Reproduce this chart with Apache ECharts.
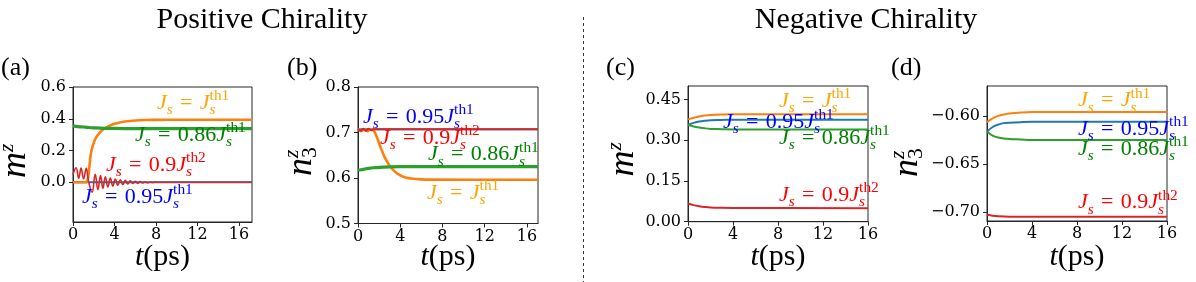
<!DOCTYPE html>
<html><head><meta charset="utf-8">
<script src="https://cdn.jsdelivr.net/npm/echarts@6/dist/echarts.min.js"></script>
<style>html,body{margin:0;padding:0;background:#fff}#c{width:1196px;height:282px}</style>
</head><body><div id="c"></div>
<script>
// ---------------- data (t in ps, value) ----------------
// Panel (a): m^z, positive chirality
const a_blue   = [[0,0],[17.25,0]];
const a_orange = [[0,0],[1.2,0],[1.4,0.01],[1.55,0.08],[1.7,0.17],[1.9,0.23],[2.2,0.28],[2.6,0.315],[3.0,0.337],[3.5,0.355],[4.0,0.368],[4.5,0.377],[5,0.383],[6,0.389],[7,0.392],[8,0.393],[10,0.394],[17.25,0.394]];
const a_green  = [[0,0.355],[0.5,0.351],[1,0.348],[1.5,0.345],[2,0.343],[3,0.34],[4,0.339],[6,0.338],[17.25,0.338]];
const a_red    = [[0,0.05],[0.3,0.092],[0.55,0.025],[0.78,0.09],[1.02,0.022],[1.27,0.088],[1.5,0.005],[1.84,-0.062],[2.14,0.05],[2.4,-0.047],[2.65,0.042],[2.88,-0.038],[3.12,0.034],[3.36,-0.03],[3.6,0.027],[3.84,-0.024],[4.08,0.021],[4.32,-0.019],[4.56,0.016],[4.8,-0.014],[5.04,0.012],[5.28,-0.011],[5.52,0.009],[5.76,-0.008],[6.0,0.007],[6.24,-0.006],[6.48,0.005],[6.72,-0.004],[6.96,0.003],[7.2,-0.003],[7.44,0.002],[7.68,-0.0015],[7.92,0.001],[8.2,0],[17.25,0]];
// Panel (b): n3^z, positive chirality
const b_blue   = [[0,0.707],[17.05,0.707]];
const b_orange = [[0,0.707],[0.3,0.703],[0.6,0.707],[0.9,0.703],[1.2,0.707],[1.45,0.705],[1.7,0.695],[2.1,0.67],[2.5,0.647],[3.0,0.627],[3.5,0.614],[4.0,0.606],[4.5,0.601],[5,0.599],[6,0.597],[7,0.5965],[17.05,0.596]];
const b_green  = [[0,0.617],[0.5,0.619],[1,0.621],[1.5,0.6225],[2,0.6235],[3,0.6245],[4,0.625],[17.05,0.625]];
const b_red    = [[0,0.707],[0.25,0.704],[0.5,0.708],[0.75,0.704],[1.0,0.708],[1.25,0.705],[1.5,0.707],[17.05,0.707]];
// Panel (c): m^z, negative chirality
const c_blue   = [[0,0.357],[0.5,0.364],[1,0.369],[1.5,0.372],[2,0.374],[3,0.375],[4,0.376],[16,0.376]];
const c_orange = [[0,0.377],[0.5,0.383],[1,0.388],[1.5,0.391],[2,0.393],[3,0.395],[4,0.396],[16,0.396]];
const c_green  = [[0,0.357],[0.5,0.351],[1,0.347],[1.5,0.344],[2,0.342],[3,0.341],[4,0.34],[16,0.34]];
const c_red    = [[0,0.067],[0.5,0.061],[1,0.057],[1.5,0.054],[2,0.052],[3,0.051],[4,0.0505],[16,0.05]];
// Panel (d): n3^z, negative chirality
const d_blue   = [[0,-0.6165],[0.5,-0.6115],[1,-0.609],[1.5,-0.6075],[2,-0.607],[3,-0.6065],[4,-0.6062],[16,-0.606]];
const d_orange = [[0,-0.6065],[0.5,-0.6025],[1,-0.6],[1.5,-0.5985],[2,-0.5975],[3,-0.5965],[4,-0.596],[16,-0.596]];
const d_green  = [[0,-0.6165],[0.5,-0.6205],[1,-0.6225],[1.5,-0.6235],[2,-0.624],[3,-0.6245],[4,-0.625],[16,-0.625]];
const d_red    = [[0,-0.7025],[0.5,-0.7035],[1,-0.704],[2,-0.7045],[4,-0.7047],[16,-0.7047]];

// tick values
const xTicks  = [0,4,8,12,16];
const aYTicks = [0,0.2,0.4,0.6];
const bYTicks = [0.5,0.6,0.7,0.8];
const cYTicks = [0,0.15,0.30,0.45];
const dYTicks = [-0.70,-0.65,-0.60];

// texts
const titles = ['Positive Chirality','Negative Chirality'];
const panelTags = ['(a)','(b)','(c)','(d)'];

// ---------------- layout ----------------
const C_BLUE='#1f77b4', C_ORANGE='#ff7f0e', C_GREEN='#2ca02c', C_RED='#d62728';
const L_BLUE='#0000ff', L_ORANGE='#ffa500', L_GREEN='#008000', L_RED='#ff0000';
const MATHFAM = 'Liberation Serif';
const TICKF = 'DejaVu Serif';

const grids = [
  {left:73,  top:87, width:179, height:135},
  {left:358, top:87, width:180, height:136.5},
  {left:688, top:86, width:180, height:135.7},
  {left:987, top:86, width:180, height:135}
];
const xMax = [17.25, 17.05, 16, 16];
const yRange = [[-0.25,0.6],[0.5,0.8],[0,0.5],[-0.709,-0.569]];
const yTicks = [aYTicks,bYTicks,cYTicks,dYTicks];
const yDec = [1,1,2,2];

const cv = document.createElement('canvas').getContext('2d');
function meas(t, it, fs){ cv.font = (it?'italic ':'') + fs + 'px "' + MATHFAM + '"'; return cv.measureText(t).width; }
function tstyle(text, it, fs, color, align) {
  return {text, fontFamily:MATHFAM, fontSize:fs, fontStyle: it ? 'italic' : 'normal', fill:color,
    align: align || 'left', verticalAlign:'middle', textAlign: align || 'left', textVerticalAlign:'middle'};
}

// build formula pieces in local coords (baseline y=0)
function formula(segs, size, color, o) {
  o = o || {};
  const S = size * (o.scale || 0.7);
  const subDy = o.subDy != null ? o.subDy : 0.22*size;
  const supDy = o.supDy != null ? o.supDy : -0.42*size;
  let cur = 0, lastStart = 0;
  const kids = [];
  segs.forEach(s => {
    const fs = s.pos ? S : size;
    const w = meas(s.t, s.it, fs);
    const x0 = s.stack ? lastStart : cur;
    cur = s.stack ? Math.max(cur, x0 + w) : x0 + w;
    lastStart = x0;
    const dy = s.pos === 'sub' ? subDy : s.pos === 'sup' ? supDy : 0;
    kids.push({type:'text', x:x0, y:dy - 0.34*fs, z:100, style:tstyle(s.t, s.it, fs, color)});
  });
  return {kids, width:cur};
}
function place(segs, size, color, x, baseline, o) {
  o = o || {};
  const r = formula(segs, size, color, o);
  const gx = o.center ? x - r.width/2 : x;
  return {type:'group', x:gx, y:baseline, z:100, children:r.kids};
}
function placeRot(segs, size, color, gx, gy, o) {
  const r = formula(segs, size, color, o);
  return {type:'group', x:gx, y:gy, rotation:Math.PI/2, z:100, children:r.kids};
}
function jLabel(coef, th) {
  const s = [{t:'J',it:true},{t:'s',it:true,pos:'sub'},{t:'\u2004=\u2004'}];
  if (coef) s.push({t:coef});
  s.push({t:'J',it:true},{t:'s',it:true,pos:'sub'},{t:th,pos:'sup',stack:true});
  return s;
}
const LS = 22;
const labels = [
  // panel a
  [jLabel('', 'th1'), L_ORANGE, 157, 110.5],
  [jLabel('0.86', 'th1'), L_GREEN, 135, 142.5],
  [jLabel('0.9', 'th2'), L_RED, 106, 172.5],
  [jLabel('0.95', 'th1'), L_BLUE, 82, 204.5],
  // panel b
  [jLabel('0.95', 'th1'), L_BLUE, 363, 124.5],
  [jLabel('0.9', 'th2'), L_RED, 380, 145.5],
  [jLabel('0.86', 'th1'), L_GREEN, 428, 162],
  [jLabel('', 'th1'), L_ORANGE, 427, 200.5],
  // panel c
  [jLabel('', 'th1'), L_ORANGE, 779, 108.5],
  [jLabel('0.95', 'th1'), L_BLUE, 723, 129.5],
  [jLabel('0.86', 'th1'), L_GREEN, 779, 145.5],
  [jLabel('0.9', 'th2'), L_RED, 779, 202.5],
  // panel d
  [jLabel('', 'th1'), L_ORANGE, 1078, 108],
  [jLabel('0.95', 'th1'), L_BLUE, 1078, 136.5],
  [jLabel('0.86', 'th1'), L_GREEN, 1078, 156.5],
  [jLabel('0.9', 'th2'), L_RED, 1078, 210]
];

const graphic = [];
labels.forEach(l => graphic.push(place(l[0], LS, l[1], l[2], l[3])));
// x axis names
grids.forEach(g => graphic.push(place([{t:'t',it:true},{t:'(ps)'}], 30, '#000', g.left + g.width/2, 267, {center:true})));
// y axis names
const mz = [{t:'m',it:true},{t:'z',it:true,pos:'sup'}];
const n3z = [{t:'n',it:true},{t:'3',pos:'sub'},{t:'z',it:true,pos:'sup',stack:true}];
graphic.push(placeRot(mz, 36, '#000', 28, 178, {scale:0.6, supDy:-13}));
graphic.push(placeRot(n3z, 36, '#000', 314, 176, {scale:0.6, supDy:-14, subDy:4}));
graphic.push(placeRot(mz, 36, '#000', 636, 176.5, {scale:0.6, supDy:-13}));
graphic.push(placeRot(n3z, 36, '#000', 920, 177, {scale:0.6, supDy:-14, subDy:4}));
// titles
[[262,titles[0]],[866,titles[1]]].forEach(t => graphic.push({type:'text', x:t[0], y:30 - 0.34*30, z:100,
  style:tstyle(t[1], false, 30, '#000', 'center')}));
// panel tags
[1,287,606,891].forEach((x,i) => graphic.push({type:'text', x:x, y:77 - 0.34*26, z:100,
  style:tstyle(panelTags[i], false, 26, '#000', 'left')}));
// divider
graphic.push({type:'line', z:100, shape:{x1:583.5,y1:17,x2:583.5,y2:282}, style:{stroke:'#333', lineWidth:1, lineDash:[3,3]}});

const AX = '#262626';
const xAxes = grids.map((g,i) => ({
  gridIndex:i, type:'value', min:0, max:xMax[i],
  axisLine:{show:true, onZero:false, lineStyle:{color:AX, width:1}},
  axisTick:{show:true, length:4, customValues:xTicks, lineStyle:{color:AX}},
  axisLabel:{customValues:xTicks, margin:5, fontFamily:TICKF, fontSize:16, color:'#000'},
  splitLine:{show:false}
}));
const yAxes = grids.map((g,i) => ({
  gridIndex:i, type:'value', min:yRange[i][0], max:yRange[i][1],
  axisLine:{show:true, onZero:false, lineStyle:{color:AX, width:1}},
  axisTick:{show:true, length:4, customValues:yTicks[i], lineStyle:{color:AX}},
  axisLabel:{customValues:yTicks[i], margin:7, fontFamily:TICKF, fontSize:16, color:'#000',
    formatter: v => (+v).toFixed(yDec[i]).replace('-', '\u2212')},
  splitLine:{show:false}
}));

function ser(i, data, color, w, smooth) {
  return {type:'line', xAxisIndex:i, yAxisIndex:i, data, showSymbol:false, symbol:'none',
    smooth: smooth == null ? 0.35 : smooth, clip:true, lineStyle:{color, width:w}, itemStyle:{color}, silent:true};
}
const series = [
  ser(0,a_blue,C_BLUE,2), ser(0,a_orange,C_ORANGE,2.6), ser(0,a_green,C_GREEN,3.2), ser(0,a_red,C_RED,1.6,0.45),
  ser(1,b_blue,C_BLUE,2), ser(1,b_orange,C_ORANGE,2.6), ser(1,b_green,C_GREEN,3.2), ser(1,b_red,C_RED,2),
  ser(2,c_blue,C_BLUE,2), ser(2,c_orange,C_ORANGE,2), ser(2,c_green,C_GREEN,2), ser(2,c_red,C_RED,2),
  ser(3,d_blue,C_BLUE,2), ser(3,d_orange,C_ORANGE,2), ser(3,d_green,C_GREEN,2), ser(3,d_red,C_RED,2)
];

const chart = echarts.init(document.getElementById('c'), null, {renderer:'canvas'});
chart.setOption({
  animation:false,
  backgroundColor:'#fff',
  grid: grids.map(g => Object.assign({show:true, borderColor:AX, borderWidth:1, backgroundColor:'transparent', containLabel:false}, g)),
  xAxis:xAxes, yAxis:yAxes, series, graphic
});
</script></body></html>
